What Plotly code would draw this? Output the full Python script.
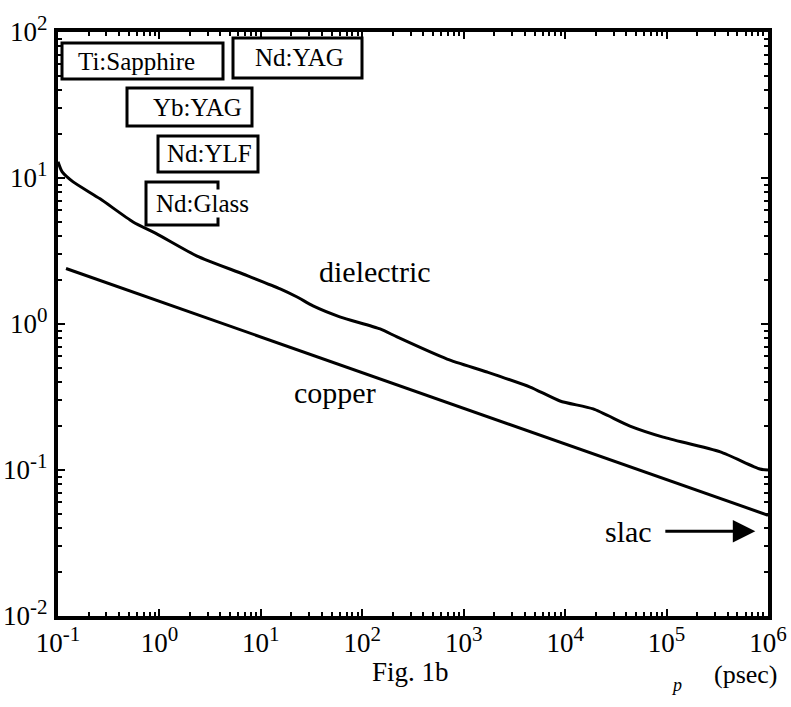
import plotly.graph_objects as go
import math

# ---- data ----
diel_t = [0.1, 0.11, 0.141, 0.26, 0.55, 0.95, 2.35, 6.67, 15.5, 22.8, 32.7, 60, 150, 220,
          686, 1700, 4520, 8900, 18900, 43600, 92500, 339000, 832000, 1e6]
diel_f = [12.9, 11.0, 9.4, 7.2, 5.0, 4.13, 2.92, 2.2, 1.74, 1.53, 1.33, 1.12, 0.925, 0.815,
          0.575, 0.469, 0.37, 0.297, 0.262, 0.2, 0.168, 0.133, 0.1016, 0.1]
copper_t = [0.12, 1e6]
copper_f = [2.4, 0.049]
slac_t = 7.5e5
slac_f = 0.038

x_tickvals = [0.1, 1, 10, 100, 1e3, 1e4, 1e5, 1e6]
x_exponents = ["-1", "0", "1", "2", "3", "4", "5", "6"]
y_tickvals = [0.01, 0.1, 1, 10, 100]
y_exponents = ["-2", "-1", "0", "1", "2"]

laser_labels = ["Ti:Sapphire", "Nd:YAG", "Yb:YAG", "Nd:YLF", "Nd:Glass"]

def pow_label(e):
    return '10<sup><span style="font-size:21px">' + e + '</span></sup>'

x_ticktext = [pow_label(e) for e in x_exponents]
y_ticktext = [pow_label(e) for e in y_exponents]

# ---- layout geometry (pixels) ----
W, H = 791, 707
L, R, T, B = 58, 23, 32, 91
PW, PH = W - L - R, H - T - B

def px(x):
    return (x - L) / PW

def py(y):
    return (H - B - y) / PH

FONT = "Liberation Serif, Times New Roman, serif"

fig = go.Figure()
fig.add_trace(go.Scatter(x=diel_t, y=diel_f, mode="lines",
                         line=dict(color="black", width=3, shape="spline", smoothing=0.6),
                         showlegend=False))
fig.add_trace(go.Scatter(x=copper_t, y=copper_f, mode="lines",
                         line=dict(color="black", width=3), showlegend=False))

# label boxes: (x0, y0, x1, y1) in pixels, text centre
boxes = [(62, 43, 223, 79, 136, 61),
         (233, 38, 362, 78, 299, 58),
         (127, 88, 252, 126, 197, 107),
         (158, 136, 258, 172, 209, 154),
         (146, 182, 218, 225, 202, 203)]
shapes = []
annotations = []
for lab, (x0, y0, x1, y1, tx, ty) in zip(laser_labels, boxes):
    shapes.append(dict(type="rect", xref="paper", yref="paper",
                       x0=px(x0), x1=px(x1), y0=py(y1), y1=py(y0),
                       line=dict(color="black", width=3), fillcolor="rgba(0,0,0,0)"))
    annotations.append(dict(xref="paper", yref="paper", x=px(tx), y=py(ty),
                            text=lab, showarrow=False, xanchor="center", yanchor="middle",
                            font=dict(family=FONT, size=25, color="black"),
                            bgcolor="white" if lab == "Nd:Glass" else "rgba(0,0,0,0)",
                            borderpad=0))

annotations += [
    dict(xref="paper", yref="paper", x=px(375), y=py(271), text="dielectric",
         showarrow=False, font=dict(family=FONT, size=30, color="black")),
    dict(xref="paper", yref="paper", x=px(292), y=py(392), text="copper",
         showarrow=False, font=dict(family=FONT, size=30, color="black")),
    dict(xref="x", yref="y", x=math.log10(slac_t), y=math.log10(slac_f), text="slac",
         showarrow=True, ax=-127, ay=0, arrowhead=2, arrowsize=1.5, arrowwidth=3,
         arrowcolor="black", startstandoff=12, xanchor="center",
         font=dict(family=FONT, size=30, color="black")),
    dict(xref="paper", yref="paper", x=px(410), y=py(688), text="Fig. 1b",
         showarrow=False, font=dict(family=FONT, size=27, color="black"), borderpad=0),
    dict(xref="paper", yref="paper", x=px(683), y=py(696), text="<i>p</i>",
         showarrow=False, font=dict(family=FONT, size=18, color="black"), borderpad=0),
    dict(xref="paper", yref="paper", x=px(779), y=py(690), xanchor="right",
         text="(psec)", showarrow=False,
         font=dict(family=FONT, size=26, color="black"), borderpad=0),
]

axis_common = dict(type="log", showgrid=False, zeroline=False, showline=True,
                   automargin=False,
                   linecolor="black", linewidth=4, mirror="allticks",
                   ticks="inside", ticklen=7, tickwidth=2, tickcolor="black",
                   tickmode="array",
                   tickfont=dict(family=FONT, size=27, color="black"),
                   minor=dict(ticks="inside", ticklen=4, tickwidth=2, tickcolor="black",
                              dtick="D1", showgrid=False))

fig.update_layout(
    width=W, height=H,
    margin=dict(l=L, r=R, t=T, b=B, pad=0, autoexpand=False),
    paper_bgcolor="white", plot_bgcolor="white",
    font=dict(family=FONT, color="black"),
    xaxis=dict(axis_common, range=[-1, 6], tickvals=x_tickvals, ticktext=x_ticktext,
               ticklabelstandoff=0),
    yaxis=dict(axis_common, range=[-2, 2], tickvals=y_tickvals, ticktext=y_ticktext,
               ticklabelstandoff=1),
    shapes=shapes, annotations=annotations,
)

fig.write_html("out.html")
